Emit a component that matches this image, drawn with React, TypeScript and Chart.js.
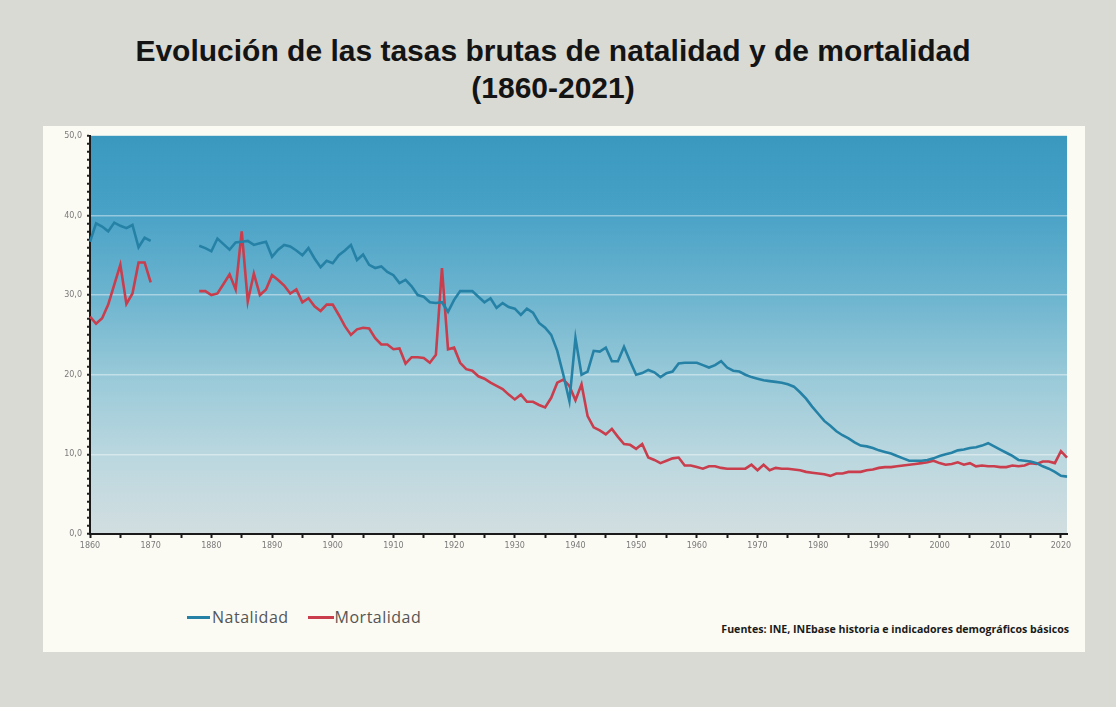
import React, { useEffect, useRef } from "react";
import { Chart, registerables } from "chart.js";

Chart.register(...registerables);

const FIRST_YEAR = 1860;
const LAST_YEAR = 2021;
const years: string[] = [];
for (let y = FIRST_YEAR; y <= LAST_YEAR; y++) years.push(String(y));

// Tasa bruta de natalidad (por 1.000 hab.)
const natalidad: (number | null)[] = [
  36.7, 39.0, 38.6, 38.0, 39.1, 38.7, 38.4, 38.8, 36.0, 37.2, // 1860
  36.8, null, null, null, null, null, null, null, 36.2, 35.9, // 1870
  35.5, 37.1, 36.4, 35.7, 36.6, 36.7, 36.8, 36.3, 36.5, 36.7, // 1880
  34.8, 35.7, 36.3, 36.1, 35.6, 35.0, 35.9, 34.6, 33.5, 34.3, // 1890
  34.0, 35.0, 35.6, 36.3, 34.4, 35.1, 33.8, 33.4, 33.6, 32.9, // 1900
  32.5, 31.5, 31.9, 31.1, 30.0, 29.8, 29.1, 29.0, 29.1, 27.9, // 1910
  29.4, 30.5, 30.5, 30.5, 29.8, 29.1, 29.6, 28.4, 29.0, 28.5, // 1920
  28.3, 27.5, 28.3, 27.8, 26.5, 25.9, 25.0, 23.0, 20.0, 16.7, // 1930
  24.6, 20.0, 20.4, 23.0, 22.9, 23.4, 21.7, 21.7, 23.5, 21.7, // 1940
  20.0, 20.2, 20.6, 20.3, 19.7, 20.2, 20.4, 21.4, 21.5, 21.5, // 1950
  21.5, 21.2, 20.9, 21.2, 21.7, 20.9, 20.5, 20.4, 20.0, 19.7, // 1960
  19.5, 19.3, 19.2, 19.1, 19.0, 18.8, 18.5, 17.8, 17.0, 16.0, // 1970
  15.1, 14.2, 13.6, 12.9, 12.4, 12.0, 11.5, 11.1, 11.0, 10.8, // 1980
  10.5, 10.3, 10.1, 9.8, 9.5, 9.2, 9.2, 9.2, 9.3, 9.5, // 1990
  9.8, 10.0, 10.2, 10.5, 10.6, 10.8, 10.9, 11.1, 11.4, 11.0, // 2000
  10.6, 10.2, 9.8, 9.3, 9.2, 9.1, 8.9, 8.5, 8.2, 7.8, // 2010
  7.3, 7.2, // 2020
];

// Tasa bruta de mortalidad (por 1.000 hab.)
const mortalidad: (number | null)[] = [
  27.3, 26.4, 27.1, 28.8, 31.3, 33.8, 28.9, 30.2, 34.1, 34.1, // 1860
  31.6, null, null, null, null, null, null, null, 30.5, 30.5, // 1870
  30.0, 30.2, 31.4, 32.6, 30.7, 38.0, 29.2, 32.7, 30.0, 30.7, // 1880
  32.5, 31.9, 31.2, 30.2, 30.7, 29.1, 29.6, 28.6, 28.0, 28.8, // 1890
  28.8, 27.5, 26.1, 25.0, 25.7, 25.9, 25.8, 24.6, 23.8, 23.8, // 1900
  23.2, 23.3, 21.4, 22.2, 22.2, 22.1, 21.5, 22.5, 33.4, 23.2, // 1910
  23.4, 21.5, 20.7, 20.5, 19.8, 19.5, 19.0, 18.6, 18.2, 17.5, // 1920
  16.9, 17.5, 16.6, 16.6, 16.2, 15.9, 17.1, 19.0, 19.4, 18.6, // 1930
  16.8, 18.8, 14.8, 13.4, 13.0, 12.5, 13.2, 12.2, 11.3, 11.2, // 1940
  10.7, 11.3, 9.6, 9.3, 8.9, 9.2, 9.5, 9.6, 8.6, 8.6, // 1950
  8.4, 8.2, 8.5, 8.5, 8.3, 8.2, 8.2, 8.2, 8.2, 8.7, // 1960
  8.0, 8.7, 8.0, 8.3, 8.2, 8.2, 8.1, 8.0, 7.8, 7.7, // 1970
  7.6, 7.5, 7.3, 7.6, 7.6, 7.8, 7.8, 7.8, 8.0, 8.1, // 1980
  8.3, 8.4, 8.4, 8.5, 8.6, 8.7, 8.8, 8.9, 9.0, 9.2, // 1990
  8.9, 8.7, 8.8, 9.0, 8.7, 8.9, 8.5, 8.6, 8.5, 8.5, // 2000
  8.4, 8.4, 8.6, 8.5, 8.6, 8.9, 8.8, 9.1, 9.1, 8.9, // 2010
  10.4, 9.6, // 2020
];

const seriesNames = ["Natalidad", "Mortalidad"];
const seriesColors = ["#2582a6", "#c93d4c"];
const titleLines = ["Evolución de las tasas brutas de natalidad y de mortalidad", "(1860-2021)"];
const sourceText = "Fuentes: INE, INEbase historia e indicadores demográficos básicos";
const Y_MAX = 50;

const bgPlugin = {
  id: "plotBackground",
  beforeDraw(chart: any) {
    const { ctx, chartArea: a } = chart;
    if (!a) return;
    const g = ctx.createLinearGradient(0, a.top, 0, a.bottom);
    g.addColorStop(0, "#3a98bf");
    g.addColorStop(0.18, "#47a1c6");
    g.addColorStop(0.4, "#6cb4cf");
    g.addColorStop(0.6, "#98c9d8");
    g.addColorStop(0.8, "#bad7df");
    g.addColorStop(1, "#d2dee0");
    ctx.save();
    ctx.fillStyle = g;
    ctx.fillRect(a.left, a.top, a.right - a.left, a.bottom - a.top);
    ctx.restore();
  },
};

function ChartCanvas() {
  const ref = useRef<HTMLCanvasElement | null>(null);
  useEffect(() => {
    if (!ref.current) return;
    const chart = new Chart(ref.current, {
      type: "line",
      data: {
        labels: years,
        datasets: [
          {
            label: seriesNames[0],
            data: natalidad,
            borderColor: seriesColors[0],
            backgroundColor: seriesColors[0],
            borderWidth: 2.6,
            pointRadius: 0,
            tension: 0,
            spanGaps: false,
          },
          {
            label: seriesNames[1],
            data: mortalidad,
            borderColor: seriesColors[1],
            backgroundColor: seriesColors[1],
            borderWidth: 2.6,
            pointRadius: 0,
            tension: 0,
            spanGaps: false,
          },
        ],
      },
      options: {
        responsive: false,
        animation: false,
        devicePixelRatio: 1,
        layout: { padding: { top: 7, right: 18, left: 0, bottom: 0 } },
        plugins: {
          legend: { display: false },
          tooltip: { enabled: false },
          title: { display: false },
        },
        scales: {
          x: {
            type: "category",
            offset: false,
            afterFit: (s: any) => {
              s.height = 32;
            },
            border: { display: true, color: "#1a1a1a", width: 2 },
            grid: {
              drawOnChartArea: false,
              drawTicks: true,
              tickLength: 4,
              tickColor: (ctx: any) =>
                Number(years[ctx.index]) % 5 === 0 ? "#1a1a1a" : "rgba(0,0,0,0)",
              tickWidth: 2,
            },
            ticks: {
              autoSkip: false,
              maxRotation: 0,
              minRotation: 0,
              padding: 3,
              color: "#7a7a7a",
              font: { family: "DejaVu Sans", size: 8 },
              callback: (_v: any, i: number) =>
                Number(years[i]) % 10 === 0 ? years[i] : "",
            },
          },
          y: {
            type: "linear",
            min: 0,
            max: Y_MAX,
            afterFit: (s: any) => {
              s.width = 47;
            },
            border: { display: true, color: "#1a1a1a", width: 2 },
            grid: {
              drawTicks: true,
              tickLength: 3,
              tickWidth: 2,
              tickColor: "#222",
              lineWidth: 1.5,
              color: (ctx: any) => {
                const v = ctx.tick ? ctx.tick.value : 0;
                return v % 10 === 0 && v > 0 && v < Y_MAX
                  ? "rgba(255,255,255,0.42)"
                  : "rgba(0,0,0,0)";
              },
            },
            ticks: {
              stepSize: 1,
              autoSkip: false,
              padding: 5,
              color: "#7a7a7a",
              font: { family: "DejaVu Sans", size: 8 },
              callback: (v: any) =>
                Number(v) % 10 === 0 ? Number(v).toFixed(1).replace(".", ",") : "",
            },
          },
        },
      },
      plugins: [bgPlugin],
    } as any);
    return () => chart.destroy();
  }, []);
  return (
    <canvas
      ref={ref}
      width={1042}
      height={440}
      style={{ position: "absolute", left: 43, top: 126, width: 1042, height: 440 }}
    />
  );
}

export default function App() {
  return (
    <div
      style={{
        position: "fixed",
        left: 0,
        top: 0,
        width: 1116,
        height: 707,
        background: "#d9dad4",
        overflow: "hidden",
      }}
    >
      <div
        style={{
          position: "absolute",
          left: 0,
          width: 1106,
          top: 32,
          textAlign: "center",
          fontFamily: "'Liberation Sans', Arial, sans-serif",
          fontWeight: 700,
          fontSize: 30,
          lineHeight: "37px",
          color: "#141414",
        }}
      >
        <div>{titleLines[0]}</div>
        <div>{titleLines[1]}</div>
      </div>
      <div
        style={{
          position: "absolute",
          left: 43,
          top: 126,
          width: 1042,
          height: 526,
          background: "#fbfaf3",
        }}
      />
      <ChartCanvas />
      <div
        style={{
          position: "absolute",
          left: 187,
          top: 606,
          height: 22,
          display: "flex",
          alignItems: "center",
          fontFamily: "'Open Sans', sans-serif",
          fontSize: 16,
          letterSpacing: 0.5,
          color: "#555",
        }}
      >
        <span style={{ display: "inline-block", width: 23, height: 3, background: seriesColors[0], marginRight: 2 }} />
        <span>{seriesNames[0]}</span>
        <span style={{ display: "inline-block", width: 26, height: 3, background: seriesColors[1], marginLeft: 19, marginRight: 1 }} />
        <span>{seriesNames[1]}</span>
      </div>
      <div
        style={{
          position: "absolute",
          right: 1116 - 1069,
          top: 622,
          fontFamily: "'Liberation Sans Narrow', 'Open Sans', sans-serif",
          fontWeight: 700,
          fontSize: 10.6,
          color: "#1a1a1a",
          whiteSpace: "nowrap",
        }}
      >
        {sourceText}
      </div>
    </div>
  );
}
